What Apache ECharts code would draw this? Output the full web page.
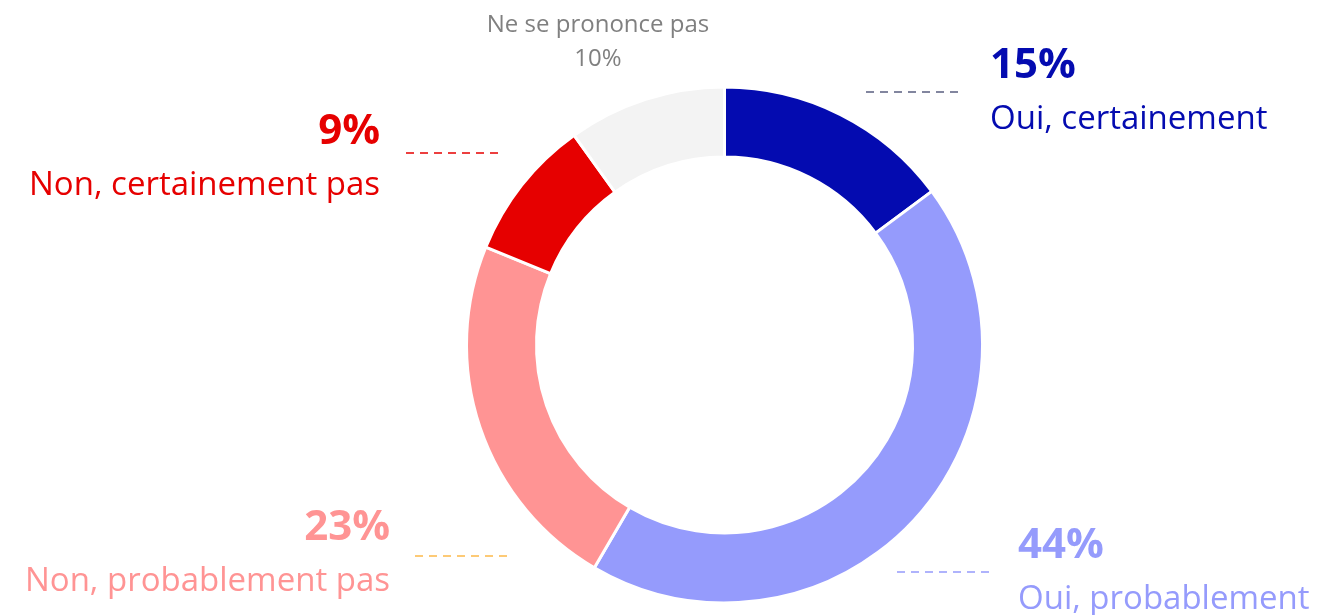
<!DOCTYPE html>
<html>
<head>
<meta charset="utf-8">
<script src="https://cdn.jsdelivr.net/npm/echarts@6/dist/echarts.min.js"></script>
<style>
  html, body { margin: 0; padding: 0; background: #fff; }
  #chart { width: 1324px; height: 615px; }
</style>
</head>
<body>
<div id="chart"></div>
<script>
// données du graphique
const categories = ['Oui, certainement', 'Oui, probablement', 'Non, probablement pas', 'Non, certainement pas', 'Ne se prononce pas'];
const values = [15, 44, 23, 9, 10];
const colors = ['#040bb0', '#959bfc', '#ff9494', '#e60000', '#f3f3f3'];
const textColors = ['#040bb0', '#959bfc', '#ff9494', '#e60000', '#808080'];
const dashColors = ['#5a5f80', '#959bfc', '#fdb94a', '#e60000', null];

// position des étiquettes (x, y, alignement) et des tirets
const labelPos = [
  { x: 990, y: 42, align: 'left' },
  { x: 1018, y: 522, align: 'left' },
  { x: 390, y: 504, align: 'right' },
  { x: 380, y: 108, align: 'right' },
  { x: 598, y: 8, align: 'center' }
];
const dashPos = [
  [866, 960, 92],
  [897, 990, 572],
  [415, 510, 556],
  [406, 500, 153],
  null
];

const chart = echarts.init(document.getElementById('chart'));
const font = '"Open Sans", sans-serif';

const data = categories.map((name, i) => ({
  name: name,
  value: values[i],
  itemStyle: { color: colors[i] },
  labelLine: {
    show: dashColors[i] != null,
    lineStyle: { color: dashColors[i] || '#fff', width: 1.5, type: [8, 6] }
  }
}));

chart.setOption({
  animation: false,
  series: [{
    type: 'pie',
    center: [724.5, 345],
    radius: [188, 258],
    startAngle: 90,
    clockwise: true,
    avoidLabelOverlap: false,
    itemStyle: { borderColor: '#fff', borderWidth: 3 },
    label: {
      show: true,
      position: 'outside',
      fontFamily: font,
      formatter: p => {
        const i = p.dataIndex;
        if (i === 4) return '{g|' + p.name + '}\n{g|' + p.value + '%}';
        return '{v' + i + '|' + p.value + '%}\n{n' + i + '|' + p.name + '}';
      },
      rich: (() => {
        const r = { g: { fontFamily: font, fontSize: 24, lineHeight: 34, color: textColors[4], align: 'center' } };
        textColors.forEach((c, i) => {
          r['v' + i] = { fontFamily: font, fontSize: 42, fontWeight: 'bold', lineHeight: 48, color: c, align: labelPos[i].align };
          r['n' + i] = { fontFamily: font, fontSize: 33, lineHeight: 60, color: c, align: labelPos[i].align };
        });
        return r;
      })()
    },
    labelLine: { show: true, length: 10, length2: 10 },
    labelLayout: params => {
      const i = params.dataIndex;
      const pos = labelPos[i];
      const res = { x: pos.x, y: pos.y, align: pos.align, verticalAlign: 'top' };
      const d = dashPos[i];
      if (d) res.labelLinePoints = [[d[0], d[2]], [d[0], d[2]], [d[1], d[2]]];
      return res;
    },
    emphasis: { disabled: true },
    data: data
  }]
});
</script>
</body>
</html>
